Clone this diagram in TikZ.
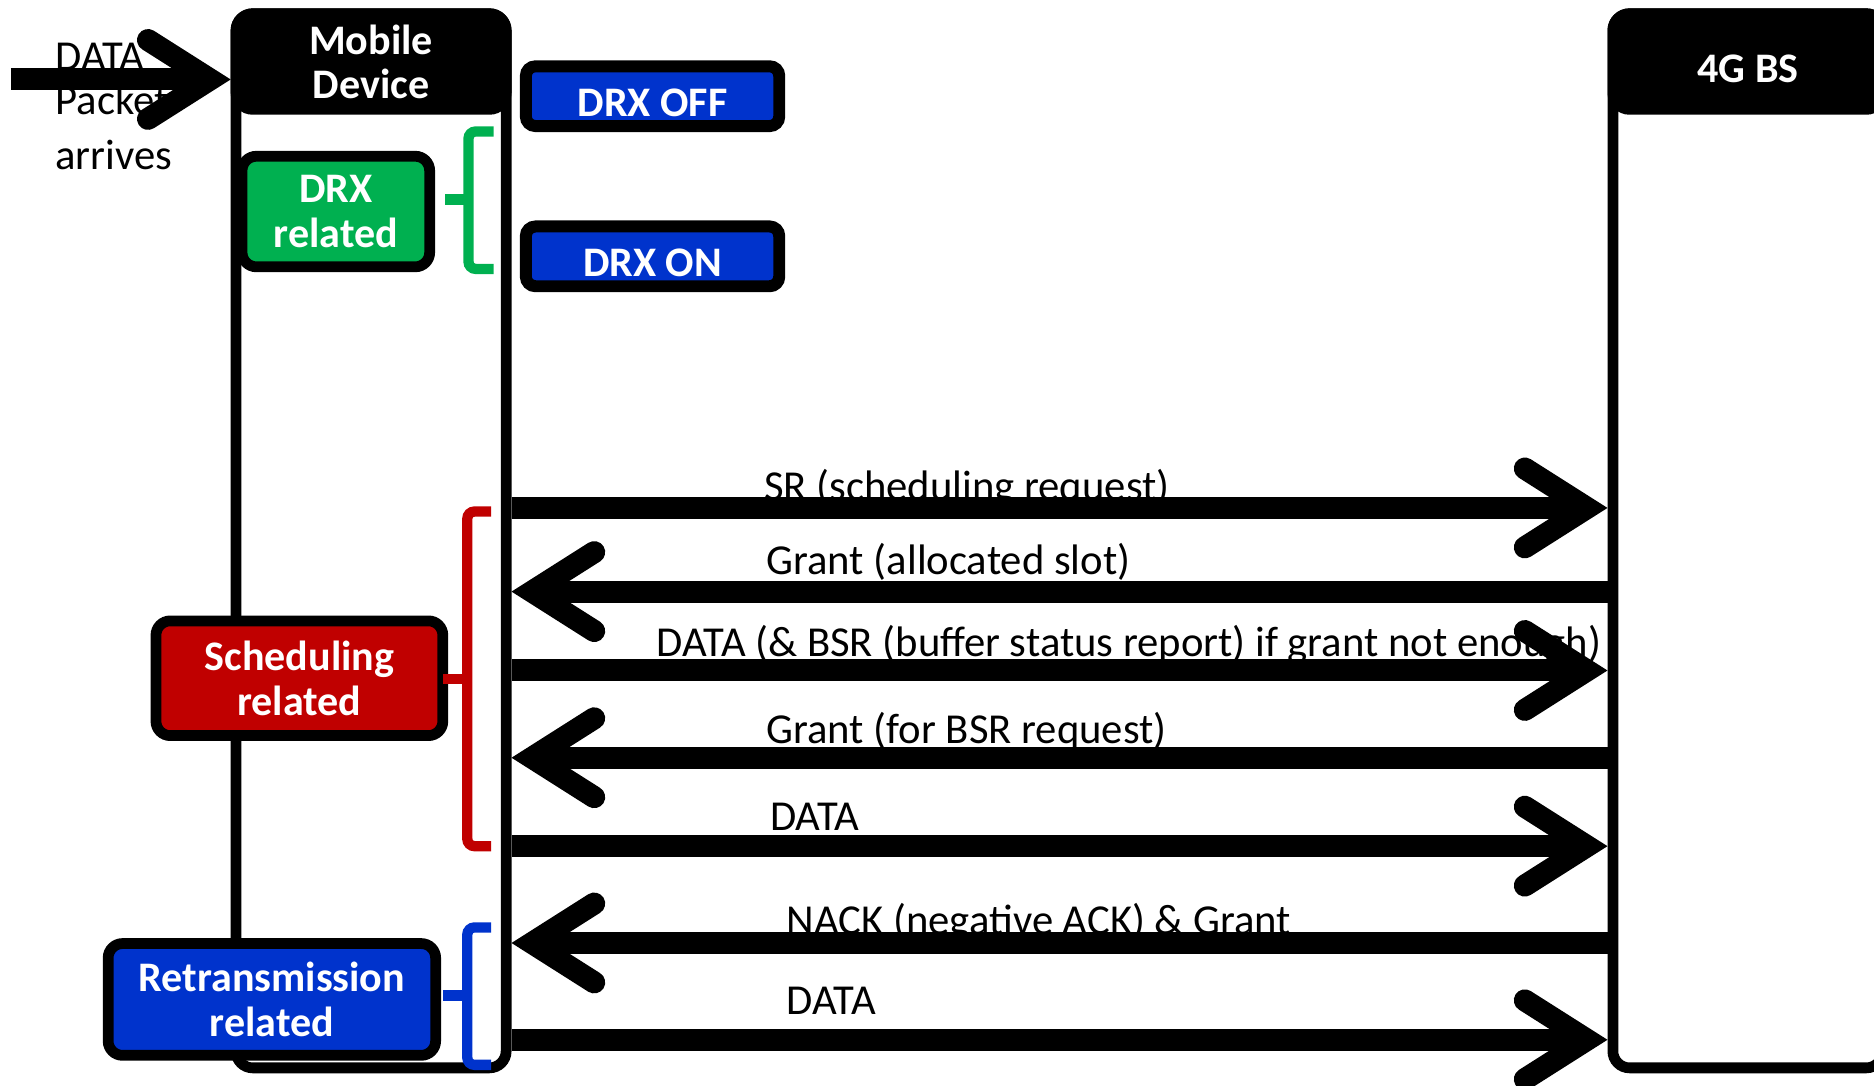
\documentclass[tikz,border=0pt]{standalone}
\usepackage{fontspec}
\setmainfont{Carlito}
\usetikzlibrary{arrows.meta}

\definecolor{drxgreen}{HTML}{00B050}
\definecolor{schedred}{HTML}{C00000}
\definecolor{retxblue}{HTML}{0033CC}

\begin{document}
\begin{tikzpicture}[x=0.5pt, y=-0.5pt,
    txt/.style = {font=\fontsize{17.85}{18.5}\selectfont},
    lifebox/.style = {draw, line width=4.5pt, rounded corners=7pt, minimum width=113pt, minimum height=441pt, inner sep=0pt},
    head/.style = {fill=black, draw, line width=4.5pt, rounded corners=7pt, minimum width=113pt, minimum height=40pt, text=white, font=\fontsize{17.6}{18.5}\selectfont\bfseries, align=center},
    tag/.style = {draw, line width=4.5pt, rounded corners=6pt, text=white, font=\fontsize{17.6}{19}\selectfont\bfseries, align=center, inner sep=0pt},
    drxbox/.style = {draw, line width=5pt, rounded corners=4pt, fill=retxblue, text=white, font=\fontsize{17.6}{19}\selectfont\bfseries, minimum width=106pt, minimum height=25pt, text height=17pt, text depth=0pt},
    lbl/.style = {txt, anchor=base west, inner sep=0pt},
    msg/.style = {line width=9.2pt, -{Straight Barb[length=26pt, width=33pt, line cap=round, line join=miter]}},
    brace/.style = {line width=4.3pt, rounded corners=3pt}
]
    \useasboundingbox (0,0) rectangle (1568,908);
    \clip (0,0) rectangle (1568,908);

    % lifelines
    \node[lifebox] (mobile) at (310.5,452.5) {};
    \node[lifebox] (bs) at (1462.5,452.5) {};
    \node[head] (mobilehead) at (310.5,51.5) {Mobile\\Device};
    \node[head, text height=17.5pt, text depth=0pt] (bshead) at (1462.5,51.5) {4G BS};

    % packet arrives
    \node[txt, align=left, anchor=base west, inner sep=0pt] (pkttext) at (46,142) {DATA\\Packet\\[4.5pt]arrives};
    \coordinate (pktin) at (9,66.5);
    \draw[msg] (pktin) -- (mobile.west |- pktin);

    \node[drxbox] (drxoff) at (546,80.5) {DRX OFF};
    \node[drxbox] (drxon) at (546,214.5) {DRX ON};

    % groups
    \node[tag, fill=drxgreen, minimum width=78.5pt, minimum height=46.25pt] (drxrel) at (281,177) {DRX\\related};
    \node[tag, fill=schedred, minimum width=120pt, minimum height=48pt] (schedrel) at (250.5,567.5) {Scheduling\\related};
    \node[tag, fill=retxblue, minimum width=137pt, minimum height=46.75pt] (retxrel) at (227.5,836.25) {Retransmission\\related};

    \draw[brace, drxgreen] (413,110) -- (392,110) -- (392,225) -- (413,225);
    \draw[brace, drxgreen] (392,167) -- (372,167);
    \draw[brace, schedred] (411,428) -- (391,428) -- (391,708) -- (411,708);
    \draw[brace, schedred] (391,568) -- (371,568);
    \draw[brace, retxblue] (411,776) -- (391,776) -- (391,891) -- (411,891);
    \draw[brace, retxblue] (391,833) -- (371,833);

    % messages
    \node[lbl] (sr) at (639,419) {SR (scheduling request)};
    \node[lbl] (grant1) at (641,481) {Grant (allocated slot)};
    \node[lbl] (data1) at (549,549) {DATA (\& BSR (buffer status report) if grant not enough)};
    \node[lbl] (grant2) at (641,622) {Grant (for BSR request)};
    \node[lbl] (data2) at (644,695) {DATA};
    \node[lbl] (nack) at (658,782) {NACK (negative ACK) \& Grant};
    \node[lbl] (data3) at (658,849) {DATA};

    \draw[msg] (mobile.east |- 0,425) -- (bs.west |- 0,425);
    \draw[msg] (bs.west |- 0,495) -- (mobile.east |- 0,495);
    \draw[msg] (mobile.east |- 0,561) -- (bs.west |- 0,561);
    \draw[msg] (bs.west |- 0,634) -- (mobile.east |- 0,634);
    \draw[msg] (mobile.east |- 0,708) -- (bs.west |- 0,708);
    \draw[msg] (bs.west |- 0,789) -- (mobile.east |- 0,789);
    \draw[msg] (mobile.east |- 0,870) -- (bs.west |- 0,870);
\end{tikzpicture}
\end{document}
